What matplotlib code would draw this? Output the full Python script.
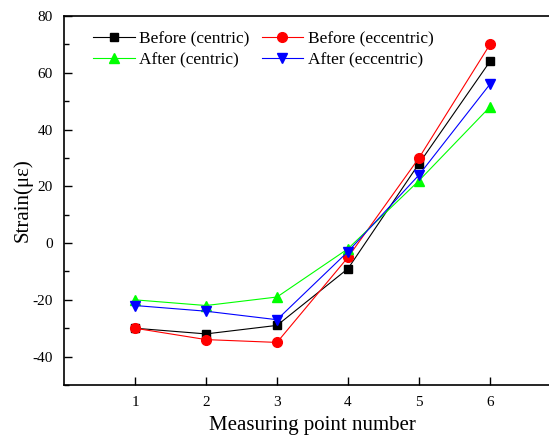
import matplotlib
matplotlib.use("Agg")
import matplotlib.pyplot as plt
from matplotlib.ticker import MultipleLocator

plt.rcParams['font.family'] = ['Liberation Serif', 'DejaVu Serif']
plt.rcParams['axes.unicode_minus'] = False

points = [1, 2, 3, 4, 5, 6]
before_centric = [-30, -32, -29, -9, 28, 64]
before_eccentric = [-30, -34, -35, -5, 30, 70]
after_centric = [-20, -22, -19, -2, 22, 48]
after_eccentric = [-22, -24, -27, -3, 24, 56]

series = [
    ("Before (centric)", before_centric, "black", "s", 6.0),
    ("Before (eccentric)", before_eccentric, "red", "o", 7.0),
    ("After (centric)", after_centric, "#00ff00", "^", 7.5),
    ("After (eccentric)", after_eccentric, "blue", "v", 7.5),
]

fig = plt.figure(figsize=(5.49, 4.37), dpi=100)
ax = fig.add_axes([64 / 549, 1 - 385 / 437, (561 - 64) / 549, (385 - 16) / 437])

handles = []
for label, vals, color, marker, ms in series:
    h, = ax.plot(points, vals, color=color, marker=marker, markersize=ms,
                 linewidth=0.8, label=label)
    handles.append(h)

ax.set_xlim(0, 7)
ax.set_ylim(-50, 80)
ax.set_xticks(points)
ax.yaxis.set_major_locator(MultipleLocator(20))
ax.yaxis.set_minor_locator(MultipleLocator(10))
ax.tick_params(axis='both', which='major', direction='in', length=6, width=1,
               labelsize=11, top=False, right=False)
ax.tick_params(axis='x', which='major', pad=8)
ax.tick_params(axis='y', which='major', pad=8)
ax.tick_params(axis='y', which='minor', direction='in', length=3.5, width=1)
ax.tick_params(axis='x', which='minor', bottom=False)
for s in ax.spines.values():
    s.set_linewidth(1.2)

ax.set_xlabel("Measuring point number", fontsize=15, labelpad=5)
ax.set_ylabel("Strain(\u03bc\u03b5)", fontsize=15, labelpad=0)

# two-column legend filled row by row
order = [handles[0], handles[2], handles[1], handles[3]]
ax.legend(handles=order, ncol=2, frameon=False, fontsize=12.5,
          loc='upper left', bbox_to_anchor=((93 - 64) / 497, 1 - (31 - 16) / 369),
          borderpad=0, borderaxespad=0, handlelength=2.4, handletextpad=0.25,
          columnspacing=0.7, labelspacing=0.3)

fig.savefig("out.png", dpi=100)
